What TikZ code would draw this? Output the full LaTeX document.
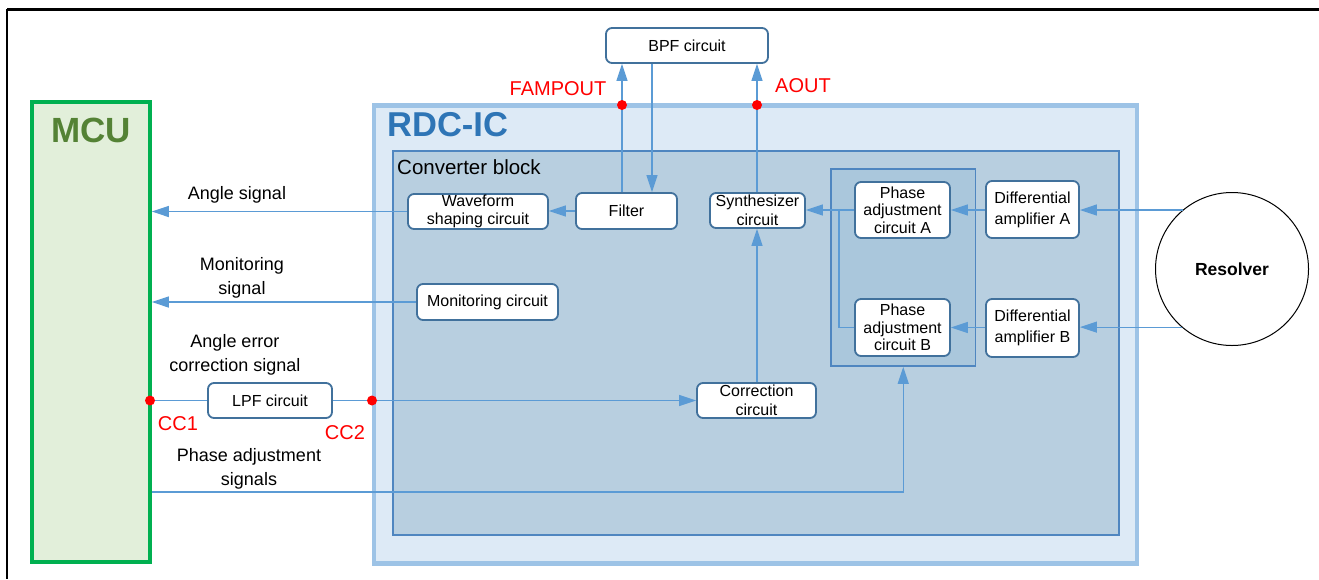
\documentclass[tikz,border=0pt]{standalone}
\usepackage{fontspec}
\setmainfont{Liberation Sans}
\usetikzlibrary{arrows.meta}
\definecolor{lineblue}{HTML}{5B9BD5}
\definecolor{boxborder}{HTML}{41719C}
\definecolor{mcugreen}{HTML}{00B050}
\definecolor{mcufill}{HTML}{E2EFDA}
\definecolor{mcutext}{HTML}{548235}
\definecolor{rdcborder}{HTML}{9DC3E6}
\definecolor{rdcfill}{HTML}{DDEAF6}
\definecolor{rdctext}{HTML}{2E75B6}
\definecolor{convfill}{HTML}{B8CFE0}
\definecolor{convborder}{HTML}{4F86C0}
\definecolor{grpfill}{HTML}{AAC7DC}
\tikzset{
  box/.style={draw=boxborder, line width=1.8pt, rounded corners=6pt, fill=white,
    align=center, inner sep=0pt, font=\fontsize{16}{18.5}\selectfont},
  arr/.style={draw=lineblue, line width=1.2pt, -{Triangle[length=17pt,width=11pt]}},
  ln/.style={draw=lineblue, line width=1.2pt},
  reddot/.style={circle, fill=red, inner sep=0pt, minimum size=10pt},
  lbl/.style={font=\fontsize{18}{24}\selectfont, align=center, inner sep=0pt},
  redlbl/.style={text=red, font=\fontsize{20}{24}\selectfont, inner sep=0pt},
}
\begin{document}
\begin{tikzpicture}[x=1pt,y=-1pt]
\useasboundingbox (0,0) rectangle (1319,579);
% frame
\draw[line width=3pt] (7,9) -- (1319,9);
\draw[line width=2.4pt] (7,9) -- (7,579);

% containers
\node[draw=mcugreen, line width=3.5pt, fill=mcufill, minimum width=118pt, minimum height=460pt, inner sep=0pt] (mcu) at (91,332) {};
\node[text=mcutext, font=\fontsize{35}{36}\selectfont\bfseries, inner sep=0pt] (mcut) at (91,130) {MCU};

\node[draw=rdcborder, line width=4.5pt, fill=rdcfill, minimum width=763pt, minimum height=458pt, inner sep=0pt] (rdc) at (755.5,334.6) {};
\node[text=rdctext, font=\fontsize{34.5}{36}\selectfont\bfseries, inner sep=0pt, anchor=west] (rdct) at (387,125) {RDC-IC};

\node[draw=convborder, line width=1.8pt, fill=convfill, minimum width=726pt, minimum height=384pt, inner sep=0pt] (conv) at (756,343) {};
\node[font=\fontsize{20.5}{24}\selectfont, inner sep=0pt, anchor=west] (convt) at (397,167) {Converter block};

\node[draw=convborder, line width=1.8pt, fill=grpfill, minimum width=144.5pt, minimum height=197pt, inner sep=0pt] (grp) at (903.25,267.5) {};

% boxes
\node[box, minimum width=162pt, minimum height=35pt] (bpf) at (687,45.5) {BPF circuit};
\node[box, minimum width=140pt, minimum height=35pt] (wave) at (478,211.5) {Waveform\\shaping circuit};
\node[box, minimum width=101pt, minimum height=36pt] (filter) at (626.5,211) {Filter};
\node[box, minimum width=95pt, minimum height=35pt] (synth) at (757.5,210.5) {Synthesizer\\circuit};
\node[box, minimum width=95pt, minimum height=56pt, font=\fontsize{16}{17.5}\selectfont] (phA) at (902.5,210) {Phase\\adjustment\\circuit A};
\node[box, minimum width=93pt, minimum height=57pt, font=\fontsize{16}{21}\selectfont] (dA) at (1032.5,209.5) {Differential\\amplifier A};
\node[box, minimum width=95pt, minimum height=57pt, font=\fontsize{16}{17.5}\selectfont] (phB) at (902.5,327.5) {Phase\\adjustment\\circuit B};
\node[box, minimum width=93pt, minimum height=58pt, font=\fontsize{16}{21}\selectfont] (dB) at (1032.5,328) {Differential\\amplifier B};
\node[box, minimum width=141pt, minimum height=36pt] (mon) at (487.5,302) {Monitoring circuit};
\node[box, minimum width=119pt, minimum height=35pt] (corr) at (756.5,400.5) {Correction\\circuit};
\node[box, minimum width=124pt, minimum height=35pt] (lpf) at (270,400.5) {LPF circuit};
\node[circle, draw=black, line width=1pt, fill=white, minimum size=153pt, inner sep=0pt,
  font=\fontsize{17.5}{20}\selectfont\bfseries] (res) at (1232,269) {Resolver};

% helper coordinates
\coordinate (fam) at (622,105);
\coordinate (aout) at (757,105);
\coordinate (dn) at (652,0);
\coordinate (cc1) at (150,400.5);
\coordinate (cc2) at (372,400.5);
\coordinate (jx) at (839,0);
\coordinate (paY) at (903,492);

% connectors
\draw[arr] (filter.north -| fam) -- (bpf.south -| fam);
\draw[arr] (bpf.south -| dn) -- (filter.north -| dn);
\draw[arr] (synth.north -| aout) -- (bpf.south -| aout);
\draw[arr] (corr.north -| aout) -- (synth.south -| aout);
\draw[arr] (filter.west) -- (wave.east |- filter.west);
\draw[arr] (wave.west) -- (mcu.east |- wave.west);
\draw[arr] (mon.west) -- (mcu.east |- mon.west);
\draw[arr] (phA.west) -- (synth.east |- phA.west);
\draw[ln] (phB.west) -- (phB.west -| jx) -- (phA.west -| jx);
\draw[arr] (dA.west |- phA.east) -- (phA.east);
\draw[arr] (dB.west |- phB.east) -- (phB.east);
\draw[arr] (res.130.3) -- (res.130.3 -| dA.east);
\draw[arr] (res.229.7) -- (res.229.7 -| dB.east);
\draw[ln] (cc1) -- (lpf.west);
\draw[ln] (lpf.east) -- (cc2);
\draw[arr] (cc2) -- (corr.west);
\draw[arr] (mcu.east |- paY) -| (grp.south);

% red dots
\node[reddot] (d1) at (fam) {};
\node[reddot] (d2) at (aout) {};
\node[reddot] (d3) at (cc1) {};
\node[reddot] (d4) at (cc2) {};

% labels
\node[redlbl] (lfam) at (558,89) {FAMPOUT};
\node[redlbl] (laout) at (803,86) {AOUT};
\node[redlbl] (lcc1) at (178,424) {CC1};
\node[redlbl] (lcc2) at (345,433) {CC2};
\node[lbl] (l1) at (237,195) {Angle signal};
\node[lbl] (l2) at (242,278) {Monitoring\\signal};
\node[lbl] (l3) at (235,355) {Angle error\\correction signal};
\node[lbl] (l4) at (249,469) {Phase adjustment\\signals};
\end{tikzpicture}
\end{document}
